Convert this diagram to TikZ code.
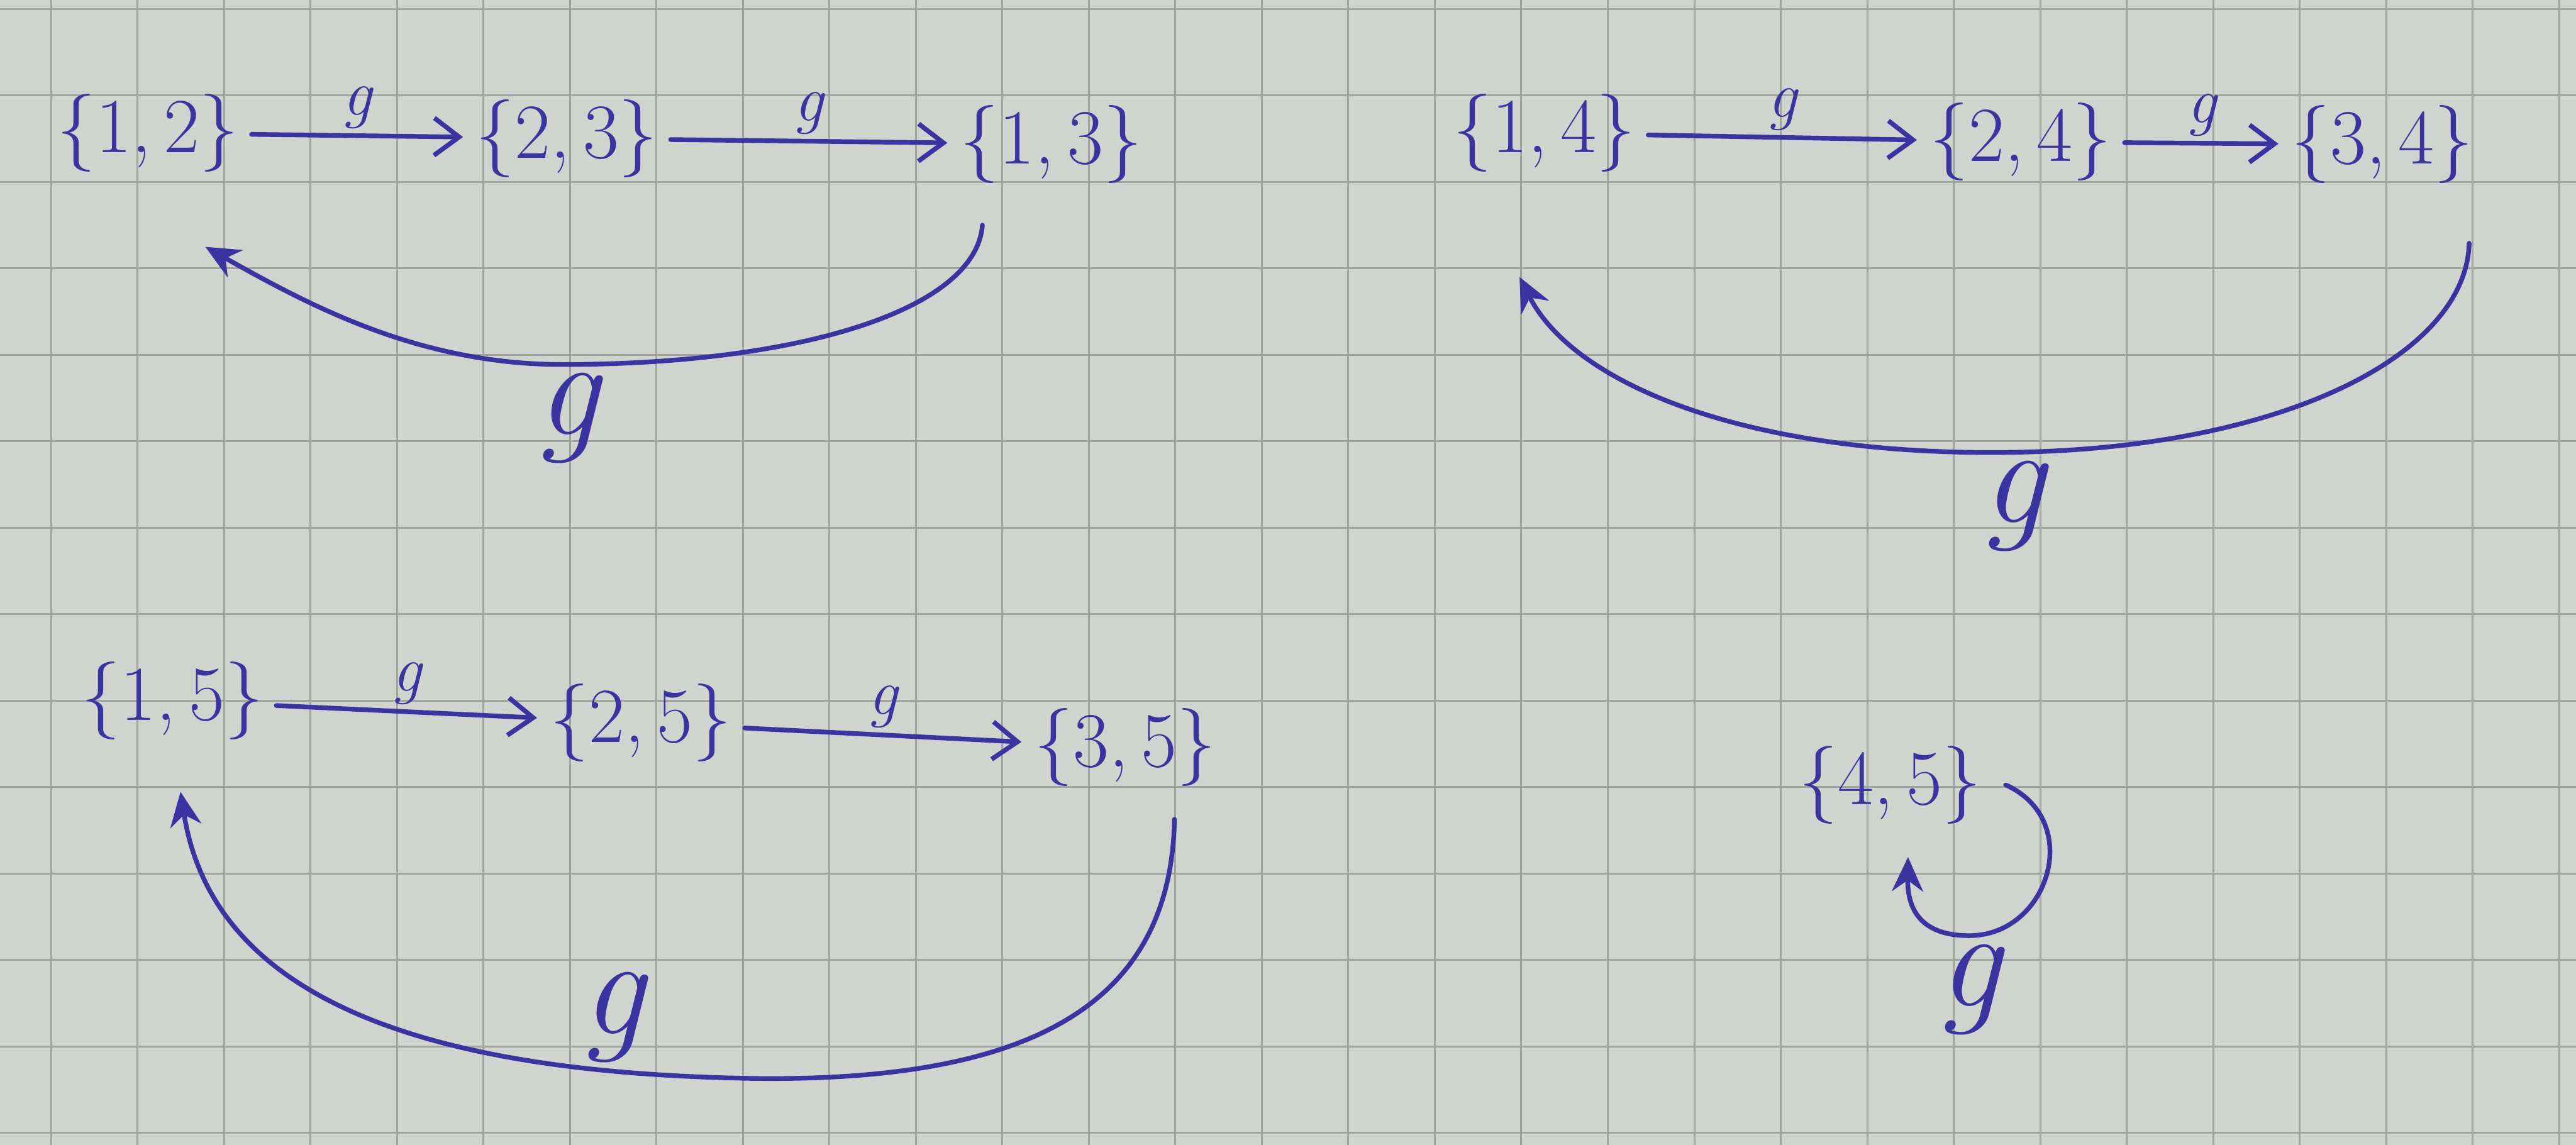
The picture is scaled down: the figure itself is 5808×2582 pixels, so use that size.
\documentclass[tikz,border=0pt]{standalone}
\usepackage{fontspec}
\usetikzlibrary{arrows.meta}
\definecolor{ink}{RGB}{58,52,160}
\definecolor{paper}{RGB}{208,212,206}
\definecolor{gridc}{RGB}{160,165,160}
\begin{document}
\begin{tikzpicture}[x=0.01cm,y=-0.01cm,
  setnode/.style={text=ink, font=\fontsize{50}{60}\selectfont, inner sep=4pt},
  edgelbl/.style={text=ink, font=\fontsize{42}{50}\selectfont\itshape, above, inner sep=3pt},
  looplbl/.style={text=ink, font=\fontsize{90}{100}\selectfont\itshape, inner sep=4pt},
  fwd/.style={draw=ink, line width=3pt, line cap=round, -{Straight Barb[length=16pt,width=24pt]}, shorten <=4pt, shorten >=4pt},
  back/.style={draw=ink, line width=3pt, line cap=round, -{Stealth[length=22pt,width=20pt]}}]
\fill[paper] (0,0) rectangle (5808,2582);
\useasboundingbox (0,0) rectangle (5808,2582);
\foreach \x in {115,310,...,5808} \draw[gridc, line width=1.2pt] (\x,0) -- (\x,2582);
\foreach \y in {20,215,...,2582} \draw[gridc, line width=1.2pt] (0,\y) -- (5808,\y);

% row 1, left
\node[setnode] (n12) at (333,300) {\{1,\,2\}};
\node[setnode] (n23) at (1278,312) {\{2,\,3\}};
\node[setnode] (n13) at (2370,325) {\{1,\,3\}};
\draw[fwd] (n12) -- node[edgelbl] {g} (n23);
\draw[fwd] (n23) -- node[edgelbl] {g} (n13);
\draw[back] ([shift={(-155,80)}]n13.south) .. controls (2200,700) and (1800,820) .. (1280,822)
  node[looplbl, below] {g}
  .. controls (950,825) and (700,690) .. ([shift={(130,154)}]n12.south);

% row 1, right
\node[setnode] (n14) at (3482,300) {\{1,\,4\}};
\node[setnode] (n24) at (4556,320) {\{2,\,4\}};
\node[setnode] (n34) at (5371,326) {\{3,\,4\}};
\draw[fwd] (n14) -- node[edgelbl] {g} (n24);
\draw[fwd] (n24) -- node[edgelbl] {g} (n34);
\draw[back] ([shift={(196,120)}]n34.south) .. controls (5560,800) and (5150,1010) .. (4540,1020)
  node[looplbl, below] {g}
  .. controls (3950,1030) and (3550,870) .. ([shift={(-56,222)}]n14.south);

% row 2, left
\node[setnode] (n15) at (389,1580) {\{1,\,5\}};
\node[setnode] (n25) at (1445,1630) {\{2,\,5\}};
\node[setnode] (n35) at (2537,1685) {\{3,\,5\}};
\draw[fwd] (n15) -- node[edgelbl] {g} (n25);
\draw[fwd] (n25) -- node[edgelbl] {g} (n35);
\draw[back] ([shift={(111,60)}]n35.south) .. controls (2640,2250) and (2350,2440) .. (1700,2432)
  .. controls (950,2420) and (480,2250) .. node[looplbl, above, pos=0.15] {g} ([shift={(18,103)}]n15.south);

% row 2, right: self-loop
\node[setnode] (n45) at (4262,1770) {\{4,\,5\}};
\draw[back] ([shift={(40,0)}]n45.east) .. controls (4700,1850) and (4620,2110) .. (4440,2110)
  node[looplbl, below] {g}
  .. controls (4330,2110) and (4300,2050) .. ([shift={(40,60)}]n45.south);
\end{tikzpicture}
\end{document}
